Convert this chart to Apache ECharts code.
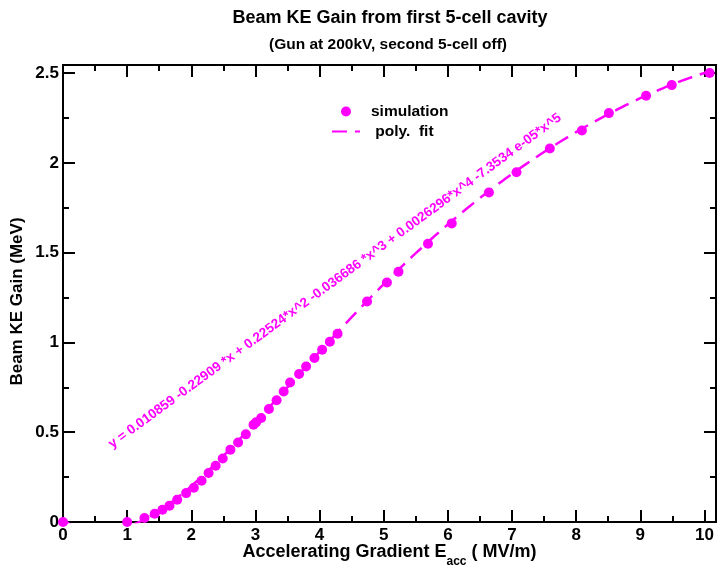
<!DOCTYPE html>
<html>
<head>
<meta charset="utf-8">
<script src="https://cdn.jsdelivr.net/npm/echarts@6/dist/echarts.min.js"></script>
<style>
  html, body { margin: 0; padding: 0; background: #ffffff; }
  #chart { width: 717px; height: 569px; }
</style>
</head>
<body>
<div id="chart"></div>
<script>
// Simulated beam kinetic energy gain (MeV) vs. accelerating gradient (MV/m)
const simX = [0, 1.00, 1.27, 1.43, 1.55, 1.66, 1.78, 1.92, 2.04, 2.16, 2.27, 2.38, 2.49,
  2.61, 2.73, 2.85, 2.97, 3.01, 3.09, 3.21, 3.33, 3.44, 3.54, 3.68, 3.79, 3.92, 4.04,
  4.16, 4.28, 4.74, 5.05, 5.23, 5.69, 6.06, 6.64, 7.07, 7.59, 8.09, 8.51, 9.09, 9.49, 10.08];
const simY = [0, 0, 0.022, 0.046, 0.068, 0.091, 0.124, 0.161, 0.191, 0.230, 0.273, 0.313, 0.354,
  0.403, 0.443, 0.488, 0.542, 0.555, 0.579, 0.629, 0.678, 0.727, 0.777, 0.824, 0.866, 0.913, 0.959,
  1.004, 1.048, 1.228, 1.334, 1.394, 1.550, 1.663, 1.835, 1.948, 2.080, 2.180, 2.277, 2.374, 2.433, 2.500];

// 5th-order polynomial fit coefficients (c0 + c1*x + ... + c5*x^5)
const fitCoef = [0.010859, -0.22909, 0.22524, -0.036686, 0.0026296, -7.3534e-05];
const fitRange = [0, 10.1];
const fitLabel = 'y = 0.010859 -0.22909 *x + 0.22524*x^2 -0.036686 *x^3 + 0.0026296*x^4 -7.3534 e-05*x^5';

// Axis ticks
const xMajorTicks = [0, 1, 2, 3, 4, 5, 6, 7, 8, 9, 10];
const xMinorTicks = [0.5, 1.5, 2.5, 3.5, 4.5, 5.5, 6.5, 7.5, 8.5, 9.5];
const yMajorTicks = [0, 0.5, 1, 1.5, 2, 2.5];
const yMinorTicks = [0.25, 0.75, 1.25, 1.75, 2.25];
const xRange = [0, 10.18];
const yRange = [0, 2.545];

const seriesNames = ['simulation', ' poly.  fit'];

const FONT = "'Liberation Sans', Arial, Helvetica, sans-serif";
const MAGENTA = '#ff00ff';

// evaluate the stated fit polynomial along the gradient axis
function polyAt(x) {
  let v = 0;
  for (let i = fitCoef.length - 1; i >= 0; i--) v = v * x + fitCoef[i];
  return v;
}
const fitData = [];
for (let i = 0; i <= 202; i++) {
  const x = fitRange[0] + (fitRange[1] - fitRange[0]) * i / 202;
  fitData.push([x, polyAt(x)]);
}
const simData = simX.map((x, i) => [x, simY[i]]);

const lineBlack = { color: '#000', width: 2 };

function xAxisDef(position, ticks, len, withLabels) {
  return {
    type: 'value', position: position, min: xRange[0], max: xRange[1],
    axisLine: { show: true, onZero: false, lineStyle: lineBlack },
    axisTick: { show: true, inside: true, length: len, lineStyle: lineBlack, customValues: ticks },
    axisLabel: withLabels ? {
      show: true, customValues: ticks, margin: 5,
      color: '#000', fontSize: 17, fontWeight: 'bold', fontFamily: FONT
    } : { show: false },
    splitLine: { show: false }
  };
}
function yAxisDef(position, ticks, len, withLabels) {
  return {
    type: 'value', position: position, min: yRange[0], max: yRange[1],
    axisLine: { show: true, onZero: false, lineStyle: lineBlack },
    axisTick: { show: true, inside: true, length: len, lineStyle: lineBlack, customValues: ticks },
    axisLabel: withLabels ? {
      show: true, customValues: ticks, margin: 4,
      color: '#000', fontSize: 17, fontWeight: 'bold', fontFamily: FONT
    } : { show: false },
    splitLine: { show: false }
  };
}

const xMain = xAxisDef('bottom', xMajorTicks, 12, true);
xMain.name = '{m|Accelerating Gradient E}{s|acc}{m| ( MV/m)}';
xMain.nameLocation = 'middle';
xMain.nameGap = 21;
xMain.nameMoveOverlap = false;
xMain.nameTextStyle = {
  color: '#000', fontFamily: FONT,
  rich: {
    m: { fontSize: 18, fontWeight: 'bold', color: '#000', fontFamily: FONT, lineHeight: 25, verticalAlign: 'top' },
    s: { fontSize: 12, fontWeight: 'bold', color: '#000', fontFamily: FONT, verticalAlign: 'bottom' }
  }
};

const yMain = yAxisDef('left', yMajorTicks, 12, true);
yMain.name = 'Beam KE Gain (MeV)';
yMain.nameLocation = 'middle';
yMain.nameGap = 37;
yMain.nameMoveOverlap = false;
yMain.nameTextStyle = { color: '#000', fontSize: 17, fontWeight: 'bold', fontFamily: FONT, padding: [0, 16, 0, 0] };

const chart = echarts.init(document.getElementById('chart'), null, { renderer: 'canvas' });
chart.setOption({
  animation: false,
  backgroundColor: '#ffffff',
  title: [
    {
      text: 'Beam KE Gain from first 5-cell cavity', left: 390, top: 9, padding: 0, textAlign: 'center',
      textStyle: { color: '#000', fontSize: 18, fontWeight: 'bold', fontFamily: FONT }
    },
    {
      text: '(Gun at 200kV, second 5-cell off)', left: 388, top: 36.5, padding: 0, textAlign: 'center',
      textStyle: { color: '#000', fontSize: 15.5, fontWeight: 'bold', fontFamily: FONT }
    }
  ],
  grid: { left: 63, right: 1, top: 65, height: 457, containLabel: false, outerBoundsMode: 'none' },
  legend: {
    data: [
      { name: seriesNames[0] },
      { name: seriesNames[1], itemStyle: { color: 'rgba(0,0,0,0)', opacity: 0, borderWidth: 0 } }
    ],
    orient: 'vertical', left: 331, top: 103.5,
    itemWidth: 28, itemHeight: 10, itemGap: 4, padding: 0,
    selectedMode: false,
    textStyle: { color: '#000', fontSize: 15.5, fontWeight: 'bold', fontFamily: FONT, padding: [0, 0, 0, 6] }
  },
  xAxis: [
    xMain,
    xAxisDef('bottom', xMinorTicks, 6, false),
    xAxisDef('top', xMajorTicks, 12, false),
    xAxisDef('top', xMinorTicks, 6, false)
  ],
  yAxis: [
    yMain,
    yAxisDef('left', yMinorTicks, 6, false),
    yAxisDef('right', yMajorTicks, 12, false),
    yAxisDef('right', yMinorTicks, 6, false)
  ],
  series: [
    {
      name: seriesNames[1], type: 'line', data: fitData, xAxisIndex: 0, yAxisIndex: 0,
      symbol: 'none', showSymbol: false, clip: true, z: 2,
      lineStyle: { color: MAGENTA, width: 2.5, type: [15, 8] },
      itemStyle: { color: MAGENTA }
    },
    {
      name: seriesNames[0], type: 'scatter', data: simData, xAxisIndex: 0, yAxisIndex: 0,
      symbol: 'circle', symbolSize: 10, clip: false, z: 3,
      itemStyle: { color: MAGENTA, opacity: 1 }
    }
  ],
  graphic: [
    {
      type: 'text', x: 335, y: 281, rotation: 36.2 * Math.PI / 180, z: 10,
      style: {
        text: fitLabel, fill: MAGENTA, align: 'center', verticalAlign: 'middle',
        font: "bold 13.5px 'Liberation Sans', Arial, sans-serif"
      }
    }
  ]
});
</script>
</body>
</html>
